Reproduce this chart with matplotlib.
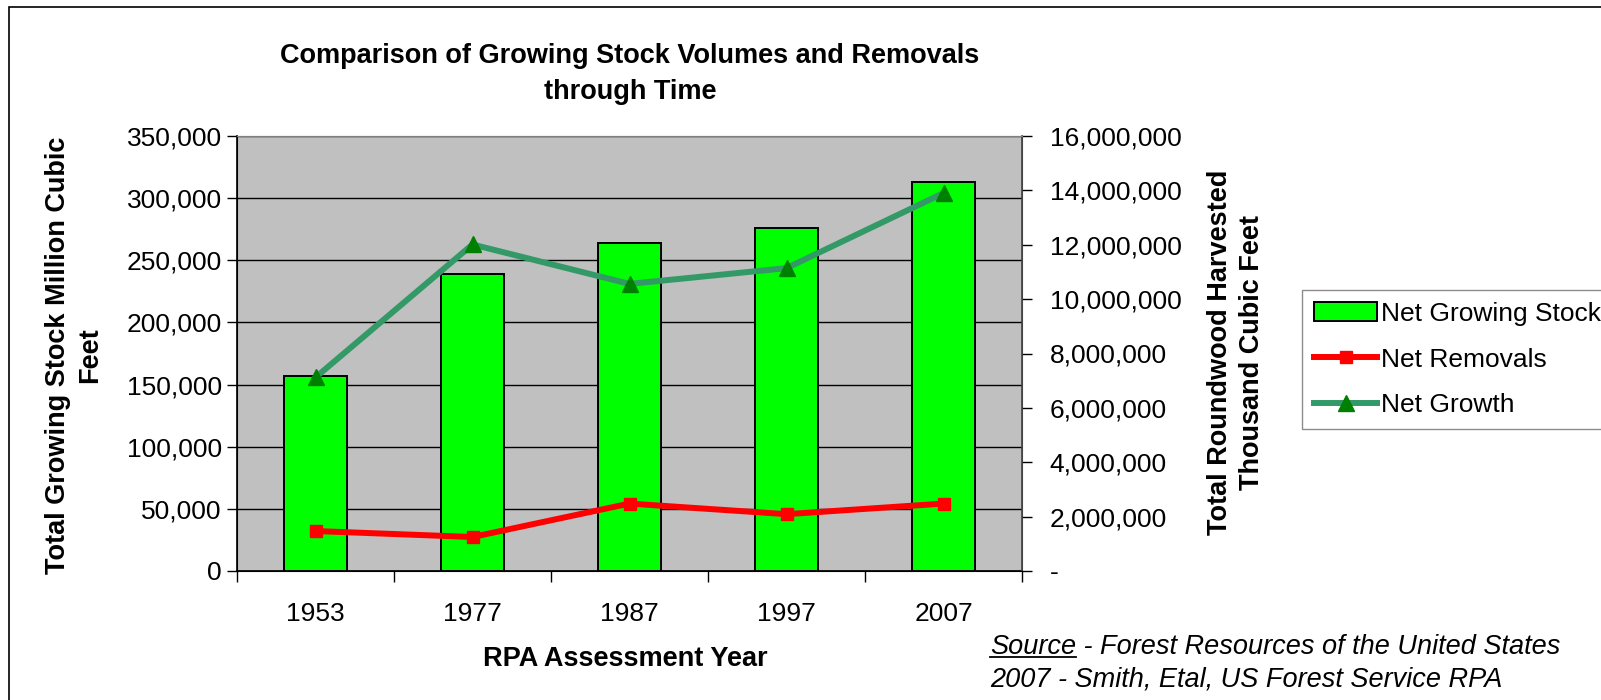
import matplotlib
matplotlib.use("Agg")
from matplotlib import pyplot as plt
from matplotlib.patches import Rectangle
from matplotlib.lines import Line2D
from matplotlib.ticker import FuncFormatter

plt.rcParams['font.family'] = ['Liberation Sans', 'DejaVu Sans']

years = ['1953', '1977', '1987', '1997', '2007']
growing_stock = [157000, 239000, 264000, 276000, 313000]
net_removals = [1470000, 1250000, 2480000, 2090000, 2480000]
net_growth = [7120000, 12010000, 10560000, 11140000, 13900000]

W, H = 1601, 700
FS = 19.5
fig = plt.figure(figsize=(W / 100, H / 100), dpi=100)

# outer chart frame (cut off at right and bottom)
fig.patches.append(Rectangle((9 / W, -0.1), 1.2, 1.1 - 7 / H, transform=fig.transFigure,
                             fill=False, edgecolor='black', linewidth=1.2))

ax = fig.add_axes([237 / W, 1 - 571 / H, (1022 - 237) / W, (571 - 136) / H])
ax.set_facecolor('#C0C0C0')
x = list(range(len(years)))
bars = ax.bar(x, growing_stock, width=0.4, color='#00FF00', edgecolor='black', linewidth=1.4,
              label='Net Growing Stock')
ax.set_xlim(-0.5, len(years) - 0.5)
ax.set_ylim(0, 350000)
ax.set_yticks(range(0, 350001, 50000))
ax.yaxis.set_major_formatter(FuncFormatter(lambda v, p: f'{int(v):,}'))
ax.set_axisbelow(True)
ax.yaxis.grid(True, color='black', linewidth=1)
ax.set_xticks(x)
ax.set_xticklabels(years)
ax.set_xticks([i - 0.5 for i in range(len(years) + 1)], minor=True)
ax.tick_params(axis='x', which='major', length=0, pad=22, labelsize=19)
ax.tick_params(axis='x', which='minor', length=8, width=1)
ax.tick_params(axis='y', length=7, width=1, labelsize=19, pad=4)
for s in ['left', 'bottom']:
    ax.spines[s].set_color('black')
    ax.spines[s].set_linewidth(1.2)
ax.spines['top'].set_color('#808080')
ax.spines['right'].set_color('#606060')

ax2 = ax.twinx()
l1, = ax2.plot(x, net_removals, color='#FF0000', linewidth=4.3, marker='s', markersize=9,
               markerfacecolor='#FF0000', markeredgecolor='#FF0000', label='Net Removals')
l2, = ax2.plot(x, net_growth, color='#339966', linewidth=4.3, marker='^', markersize=11,
               markerfacecolor='#008000', markeredgecolor='#008000', label='Net Growth')
ax2.set_ylim(0, 16000000)
ax2.set_yticks(range(0, 16000001, 2000000))
ax2.yaxis.set_major_formatter(FuncFormatter(lambda v, p: '-' if v == 0 else f'{int(v):,}'))
ax2.tick_params(axis='y', length=7, width=1, labelsize=19, pad=13)
ax2.spines['right'].set_color('#404040')
ax2.spines['right'].set_linewidth(1.2)
ax2.spines['top'].set_color('#808080')

fig.text(630 / W, 1 - 74 / H, 'Comparison of Growing Stock Volumes and Removals\nthrough Time',
         ha='center', va='center', fontsize=FS, fontweight='bold', linespacing=1.5)
fig.text(74 / W, 1 - 355 / H, 'Total Growing Stock Million Cubic\nFeet', rotation=90,
         ha='center', va='center', fontsize=FS, fontweight='bold', multialignment='center',
         linespacing=1.3)
fig.text(1236 / W, 1 - 352 / H, 'Total Roundwood Harvested\nThousand Cubic Feet', rotation=90,
         ha='center', va='center', fontsize=FS, fontweight='bold', multialignment='center',
         linespacing=1.3)
fig.text(625 / W, 1 - 659 / H, 'RPA Assessment Year', ha='center', va='center',
         fontsize=FS, fontweight='bold')

handles = [Rectangle((0, 0), 1, 1, facecolor='#00FF00', edgecolor='black', linewidth=1.4), l1, l2]
labels = ['Net Growing Stock', 'Net Removals', 'Net Growth']
fig.legend(handles, labels, loc='upper left', bbox_to_anchor=(1302 / W, 1 - 290 / H),
           frameon=True, fancybox=False, edgecolor='#707070', fontsize=19,
           handlelength=2.4, handletextpad=0.15, labelspacing=0.82, borderpad=0.45,
           borderaxespad=0)

# source note with underlined "Source"
src = fig.text(990 / W, 1 - 647 / H, 'Source', style='italic', fontsize=FS, va='center')
fig.canvas.draw()
bb = src.get_window_extent()
fig.text(bb.x1 / W, 1 - 647 / H, ' - Forest Resources of the United States', style='italic',
         fontsize=FS, va='center')
fig.add_artist(Line2D([bb.x0 / W, bb.x1 / W], [(bb.y0 + 3) / H, (bb.y0 + 3) / H],
                      transform=fig.transFigure, color='black', linewidth=1.3))
fig.text(990 / W, 1 - 680 / H, '2007 - Smith, Etal, US Forest Service RPA', style='italic',
         fontsize=FS, va='center')

fig.savefig('out.png', dpi=100)
